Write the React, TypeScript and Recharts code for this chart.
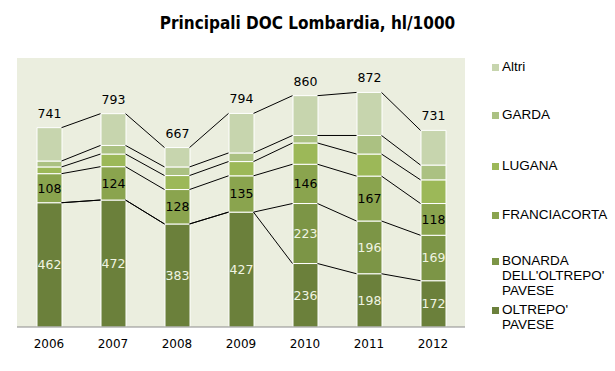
import React from "react";
import {
  BarChart,
  Bar,
  XAxis,
  YAxis,
  CartesianGrid,
  LabelList,
  Legend,
  ReferenceLine,
} from "recharts";

const years = ["2006", "2007", "2008", "2009", "2010", "2011", "2012"];
const oltrepo = [462, 472, 383, 427, 236, 198, 172];
const bonarda = [0, 0, 0, 0, 223, 196, 169];
const franciacorta = [108, 124, 128, 135, 146, 167, 118];
const lugana = [25, 47, 52, 53, 79, 82, 88];
const garda = [22, 32, 32, 32, 28, 69, 55];
const altri = [124, 118, 72, 147, 148, 160, 129];
const totals = [741, 793, 667, 794, 860, 872, 731];

const series = [
  { key: "oltrepo", name: "OLTREPO' PAVESE", values: oltrepo, color: "#6b803b" },
  { key: "bonarda", name: "BONARDA DELL'OLTREPO' PAVESE", values: bonarda, color: "#7c9546" },
  { key: "franciacorta", name: "FRANCIACORTA", values: franciacorta, color: "#8aa44e" },
  { key: "lugana", name: "LUGANA", values: lugana, color: "#9cb858" },
  { key: "garda", name: "GARDA", values: garda, color: "#abc182" },
  { key: "altri", name: "Altri", values: altri, color: "#c7d5ae" },
];

const data = years.map((year, i) => {
  const row: Record<string, number | string> = { year, idx: i, total: totals[i] };
  series.forEach((s) => (row[s.key] = s.values[i]));
  return row;
});

// cumulative tops of every series, for the Excel-like series lines
const tops = series.map((s, si) =>
  years.map((_, i) => series.slice(0, si + 1).reduce((a, t) => a + t.values[i], 0))
);

const BAR = 25;
const HALF = 12.5 / 64;

const font = "DejaVu Sans, Verdana, sans-serif";

const legendRows = [
  { name: "Altri", lines: ["Altri"], top: 0 },
  { name: "GARDA", lines: ["GARDA"], top: 48 },
  { name: "LUGANA", lines: ["LUGANA"], top: 99 },
  { name: "FRANCIACORTA", lines: ["FRANCIACORTA"], top: 148 },
  { name: "BONARDA DELL'OLTREPO' PAVESE", lines: ["BONARDA", "DELL'OLTREPO'", "PAVESE"], top: 194 },
  { name: "OLTREPO' PAVESE", lines: ["OLTREPO'", "PAVESE"], top: 243 },
];

const LegendBox = (props: any) => {
  const payload = props.payload || [];
  return (
    <div style={{ position: "relative", width: 125, height: 280, fontFamily: "'Liberation Sans', Arial, sans-serif", fontSize: 13.5 }}>
      {legendRows.map((r) => {
        const p = payload.find((e: any) => e.value === r.name);
        return (
          <div key={r.name} style={{ position: "absolute", left: 0, top: r.top, display: "flex", alignItems: "flex-start" }}>
            <span style={{ display: "inline-block", width: 7, height: 7, marginTop: 5, marginRight: 3, background: p ? p.color : "#999" }} />
            <span style={{ lineHeight: "15px", color: "#000" }}>
              {r.lines.map((l) => (
                <div key={l}>{l}</div>
              ))}
            </span>
          </div>
        );
      })}
    </div>
  );
};

export default function App() {
  return (
    <div style={{ position: "absolute", left: 0, top: 0, width: 615, height: 371, background: "#fff" }}>
      <div
        style={{
          position: "absolute",
          top: 13,
          left: 0,
          width: 615,
          textAlign: "center",
          fontFamily: "'DejaVu Sans Condensed', 'Liberation Sans Narrow', sans-serif",
          fontWeight: "bold",
          fontSize: 17,
          color: "#000",
        }}
      >
        Principali DOC Lombardia, hl/1000
      </div>
      <BarChart
        width={615}
        height={371}
        data={data}
        margin={{ top: 58, right: 150, left: 17, bottom: 14 }}
        barSize={BAR}
      >
        <CartesianGrid fill="#ebeedf" horizontal={false} vertical={false} />
        <XAxis
          dataKey="year"
          tickLine={false}
          axisLine={{ stroke: "#8c8c8c" }}
          tickMargin={6}
          height={30}
          tick={{ fill: "#000", fontSize: 12, fontFamily: font }}
        />
        <XAxis xAxisId="n" type="number" dataKey="idx" domain={[-0.5, 6.5]} hide />
        <YAxis domain={[0, 1000]} hide />
        <Legend
          layout="vertical"
          align="center"
          verticalAlign="middle"
          content={<LegendBox />}
          wrapperStyle={{ left: 492, top: 59, width: 125 }}
        />
        {series.map((s) => (
          <Bar
            key={s.key}
            dataKey={s.key}
            name={s.name}
            stackId="a"
            fill={s.color}
            stroke="#ffffff"
            strokeWidth={1}
            isAnimationActive={false}
          >
            {s.key === "oltrepo" && (
              <LabelList dataKey="oltrepo" position="center" fill="#f0f4e2" fontSize={12.5} fontFamily={font} />
            )}
            {s.key === "bonarda" && (
              <LabelList dataKey="bonarda" position="center" fill="#f0f4e2" fontSize={12.5} fontFamily={font} />
            )}
            {s.key === "franciacorta" && (
              <LabelList dataKey="franciacorta" position="center" fill="#000" fontSize={12.5} fontFamily={font} />
            )}
            {s.key === "altri" && (
              <LabelList dataKey="total" position="top" offset={10} fill="#000" fontSize={12.5} fontFamily={font} />
            )}
          </Bar>
        ))}
        {tops.map((row, si) =>
          row.slice(0, -1).map((v, i) => (
            <ReferenceLine
              key={`l-${si}-${i}`}
              xAxisId="n"
              segment={[
                { x: i + HALF, y: v },
                { x: i + 1 - HALF, y: row[i + 1] },
              ]}
              stroke="#000"
              strokeWidth={1}
            />
          ))
        )}
      </BarChart>
    </div>
  );
}
